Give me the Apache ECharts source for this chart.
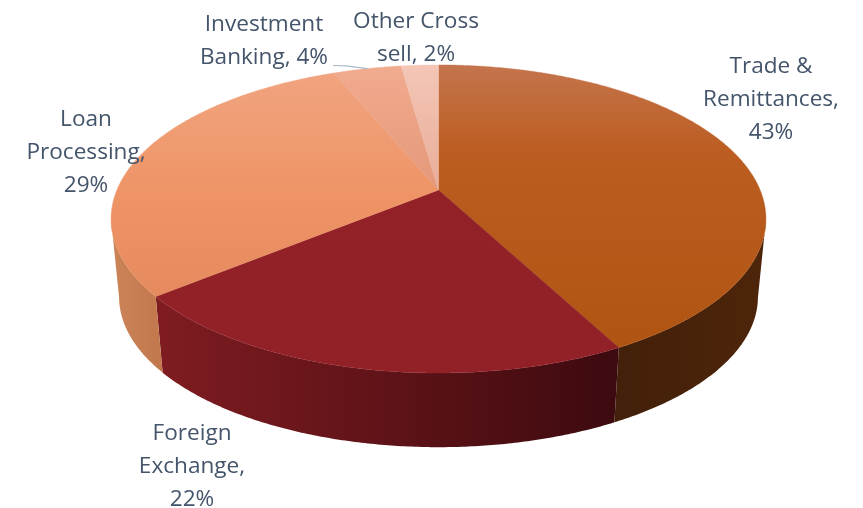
<!DOCTYPE html>
<html>
<head>
<meta charset="utf-8">
<style>html,body{margin:0;padding:0;background:#fff}#c{width:863px;height:508px}</style>
<script src="https://cdn.jsdelivr.net/npm/echarts@6/dist/echarts.min.js"></script>
</head>
<body>
<div id="c"></div>
<script>
const categories = ['Trade & Remittances', 'Foreign Exchange', 'Loan Processing', 'Investment Banking', 'Other Cross sell'];
const shares = [42.6, 21.8, 29.4, 4.0, 2.2];
const labelTemplates = ['Trade &\nRemittances,\n{p}%', 'Foreign\nExchange,\n{p}%', 'Loan\nProcessing,\n{p}%', 'Investment\nBanking, {p}%', 'Other Cross\nsell, {p}%'];

// Projection of the tilted disc (perspective view of a unit circle)
const view = {cx: 438.5, cy: 190, a: 321.6, b: 148.6, k: 0.188, vx: 438.5, vy: 3400, depth: 0.0245, skew: 1.3 * Math.PI / 180};
function warp(theta) {
  return theta - view.skew * (1 - Math.cos(theta)) / 2;
}
function project(theta, r) {
  const t = warp(theta);
  const X = r * Math.sin(t), Y = -r * Math.cos(t), s = 1 / (1 - view.k * Y);
  return [view.cx + view.a * X * s, view.cy + view.b * Y * s];
}
function lower(p) {
  return [p[0] + (view.vx - p[0]) * view.depth, p[1] + (view.vy - p[1]) * view.depth];
}
// the outer wall faces the viewer only on the front part of the rim
function wallVisible(theta) {
  return -Math.cos(warp(theta)) >= view.k;
}
const labelPlaces = [[771, 100], [192, 467], [86, 153], [264, 41], [416, 38]];
const topFill = [
  [[0, '#C4744C'], [0.28, '#BC5D21'], [1, '#AE5310']],
  [[0, '#932128'], [1, '#912027']],
  [[0, '#F1A581'], [0.45, '#EE9364'], [1, '#DF845A']],
  [[0, '#F1AB8E'], [0.4, '#E4987A'], [1, '#E4987A']],
  [[0, '#F4C6B6'], [0.4, '#E9AD99'], [1, '#E9AD99']]
];
const sideFill = [
  [[0, '#43200A'], [1, '#4D250A']],
  [[0, '#7F1C21'], [0.5, '#5F1318'], [1, '#3C0A0F']],
  [[0, '#CB8558'], [1, '#C2774C']],
  [[0, '#C2774C'], [1, '#C2774C']],
  [[0, '#C2774C'], [1, '#C2774C']]
];
function grad(stops, horizontal, a, b) {
  const colorStops = stops.map(s => ({offset: s[0], color: s[1]}));
  return horizontal
    ? {type: 'linear', global: true, x: a, y: 0, x2: b, y2: 0, colorStops}
    : {type: 'linear', global: true, x: 0, y: a, x2: 0, y2: b, colorStops};
}
const total = shares.reduce((s, v) => s + v, 0);

function renderSlice(params, api) {
  const i = params.dataIndex;
  const before = shares.slice(0, i).reduce((s, v) => s + v, 0);
  const t0 = before / total * 2 * Math.PI;
  const t1 = (before + api.value(0)) / total * 2 * Math.PI;
  const n = Math.max(8, Math.ceil((t1 - t0) * 360 / Math.PI));
  const thetas = [];
  for (let j = 0; j <= n; j++) thetas.push(t0 + (t1 - t0) * j / n);
  const edge = thetas.map(t => project(t, 1));
  const children = [];
  const wallTop = thetas.filter(wallVisible).map(t => project(t, 1));
  if (wallTop.length > 1) {
    const wallBase = wallTop.map(lower).reverse();
    const xs = wallTop.map(p => p[0]).concat(wallBase.map(p => p[0]));
    children.push({
      type: 'polygon', z2: 1,
      shape: {points: wallTop.concat(wallBase)},
      style: {fill: grad(sideFill[i], true, Math.min.apply(null, xs), Math.max.apply(null, xs)), stroke: null}
    });
  }
  const topStyle = grad(topFill[i], false, 65, 373);
  children.push({
    type: 'polygon', z2: 2,
    shape: {points: [[view.cx, view.cy]].concat(edge)},
    style: {fill: topStyle, stroke: topStyle, lineWidth: 0.4}
  });
  const pct = Math.round(api.value(0) / total * 100);
  children.push({
    type: 'text', z2: 5,
    style: {
      text: labelTemplates[i].replace('{p}', pct),
      x: labelPlaces[i][0], y: labelPlaces[i][1],
      align: 'center', verticalAlign: 'middle',
      font: '22.6px "Open Sans"', lineHeight: 33, fill: '#44546A'
    }
  });
  if (i === 3) {
    const end = project((t0 + t1) / 2, 1);
    children.push({
      type: 'polyline', z2: 4,
      shape: {points: [[333, 65.5], [346, 65.8], end]},
      style: {stroke: '#A9B9CB', lineWidth: 1.2, fill: null}
    });
  }
  return {type: 'group', children};
}

const chart = echarts.init(document.getElementById('c'), null, {renderer: 'canvas'});
chart.setOption({
  animation: false,
  backgroundColor: '#ffffff',
  series: [{
    type: 'custom',
    coordinateSystem: 'none',
    renderItem: renderSlice,
    data: categories.map((name, i) => ({name, value: [shares[i]]}))
  }]
});
</script>
</body>
</html>
